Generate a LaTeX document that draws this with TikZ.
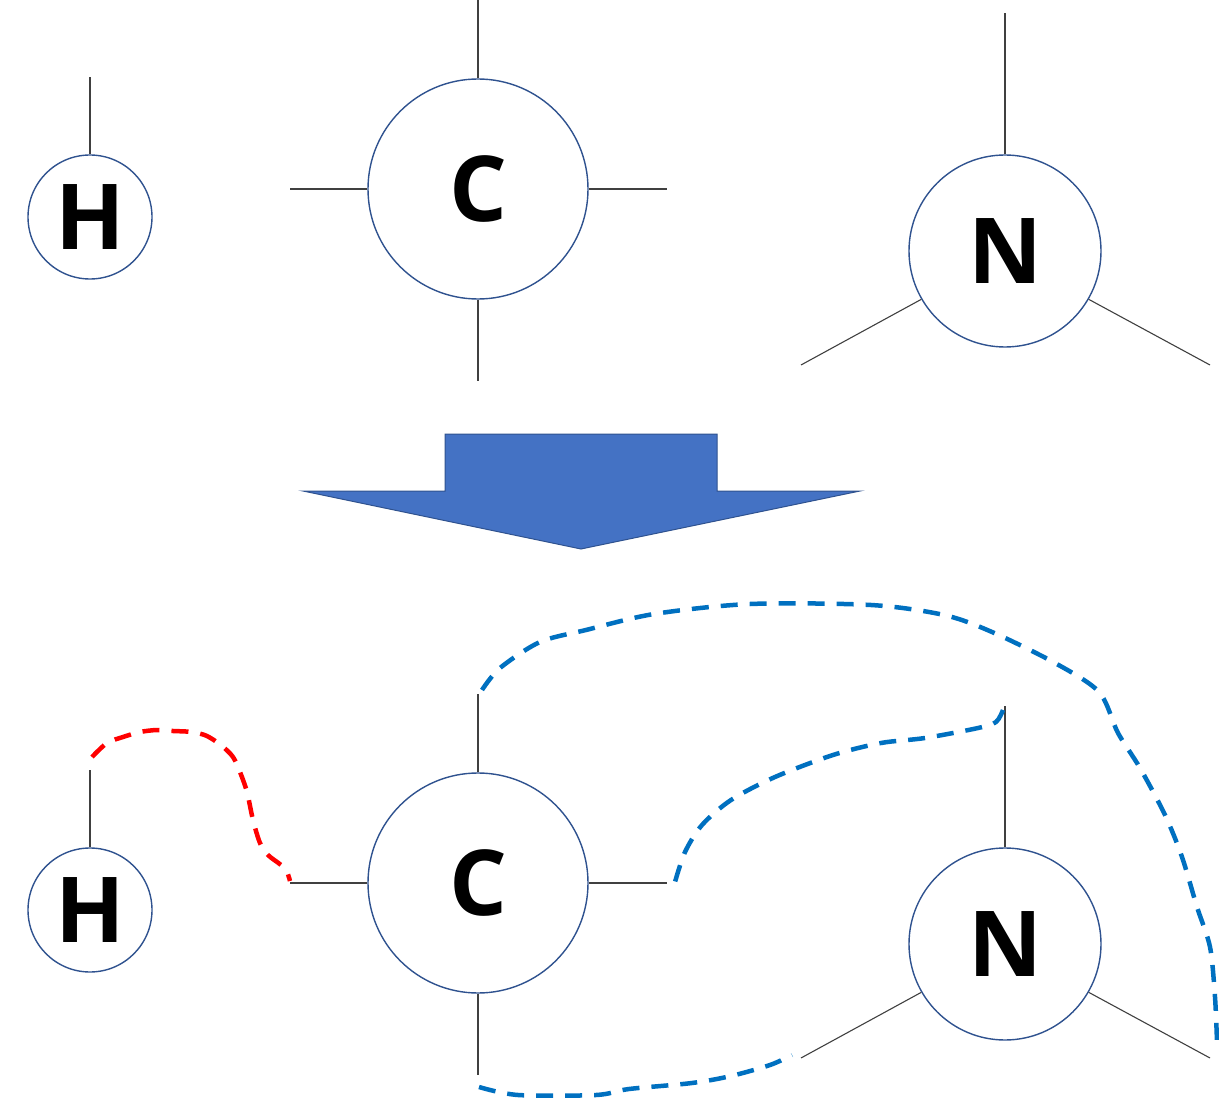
\documentclass[tikz,border=0pt]{standalone}
\usepackage{fontspec}
\setmainfont{Open Sans}
\definecolor{ringc}{HTML}{2F528F}
\definecolor{arrowc}{HTML}{4472C4}
\definecolor{blued}{HTML}{0070C0}
\definecolor{redd}{HTML}{FF0000}
\definecolor{bondc}{HTML}{404040}
\tikzset{
  atom/.style={circle, draw=ringc, line width=1.4pt, fill=white, inner sep=0pt,
    font=\fontsize{91}{91}\selectfont\bfseries},
  bond/.style={draw=bondc, line width=1.1pt},
  dashlink/.style={line width=4.5pt, dash pattern=on 17pt off 12pt, line cap=butt},
}
\begin{document}
\begin{tikzpicture}[x=1pt,y=-1pt]
\useasboundingbox (0,0) rectangle (1219,1099);
% ---------- top molecule parts ----------
\node[atom, minimum size=124pt] (H1) at (90,217) {H};
\node[atom, minimum size=220pt] (C1) at (478,189) {C};
\node[atom, minimum size=192pt] (N1) at (1005,251) {N};
\coordinate (h1t) at (90,77);
\coordinate (c1t) at (478,0);
\coordinate (c1l) at (290,189);
\coordinate (c1r) at (667,189);
\coordinate (c1b) at (478,381);
\coordinate (n1t) at (1005,13);
\coordinate (n1l) at (801,365);
\coordinate (n1r) at (1210,365);
\draw[bond] (H1.north) -- (h1t);
\draw[bond] (C1.north) -- (c1t);
\draw[bond] (C1.west) -- (c1l);
\draw[bond] (C1.east) -- (c1r);
\draw[bond] (C1.south) -- (c1b);
\draw[bond] (N1.north) -- (n1t);
\draw[bond] (N1.210) -- (n1l);
\draw[bond] (N1.330) -- (n1r);
% ---------- block arrow ----------
\node[inner sep=0pt, minimum size=0pt] (arr) at (581,491) {};
\draw[fill=arrowc, draw=ringc, line width=1pt]
  (445,434) -- (717,434) -- (717,491) -- (860,491) -- (581,549) -- (303,491) -- (445,491) -- cycle;
% ---------- bottom molecule parts ----------
\node[atom, minimum size=124pt] (H2) at (90,910) {H};
\node[atom, minimum size=220pt] (C2) at (478,883) {C};
\node[atom, minimum size=192pt] (N2) at (1005,944) {N};
\coordinate (h2t) at (90,770);
\coordinate (c2t) at (478,694);
\coordinate (c2l) at (290,883);
\coordinate (c2r) at (667,883);
\coordinate (c2b) at (478,1075);
\coordinate (n2t) at (1005,706);
\coordinate (n2l) at (801,1058);
\coordinate (n2r) at (1210,1058);
\draw[bond] (H2.north) -- (h2t);
\draw[bond] (C2.north) -- (c2t);
\draw[bond] (C2.west) -- (c2l);
\draw[bond] (C2.east) -- (c2r);
\draw[bond] (C2.south) -- (c2b);
\draw[bond] (N2.north) -- (n2t);
\draw[bond] (N2.210) -- (n2l);
\draw[bond] (N2.330) -- (n2r);
% ---------- dashed links ----------
\coordinate (rs) at (92,757);
\coordinate (re) at (290,881);
\draw[dashlink, redd] plot[smooth, tension=0.5] coordinates {
  (rs) (107,743) (123,737) (140,732) (157,730) (173,731) (192,732) (207,736)
  (222,746) (233,757) (240,772) (247,792) (253,820) (260,843) (268,855)
  (281,865) (287,872) (re)};
\coordinate (bs1) at (482,690);
\coordinate (be1) at (1217,1042);
\draw[dashlink, blued] plot[smooth, tension=0.5] coordinates {
  (bs1) (500,668) (540,642) (586,630) (654,614) (750,604) (871,605) (944,615)
  (992,632) (1055,663) (1099,692) (1118,733) (1140,768) (1165,815)
  (1182,857) (1197,907) (1210,947) (1215,997) (be1)};
\coordinate (bs2) at (1003,710);
\coordinate (be2) at (675,882);
\draw[dashlink, blued] plot[smooth, tension=0.5] coordinates {
  (bs2) (996,722) (978,728) (925,738) (881,743) (833,755) (775,777)
  (731,800) (702,825) (685,852) (be2)};
\coordinate (bs3) at (479,1087);
\coordinate (be3) at (792,1055);
\draw[dashlink, blued] plot[smooth, tension=0.5] coordinates {
  (bs3) (518,1095) (596,1095) (629,1089) (692,1083) (731,1076) (770,1065) (be3)};
\end{tikzpicture}
\end{document}
